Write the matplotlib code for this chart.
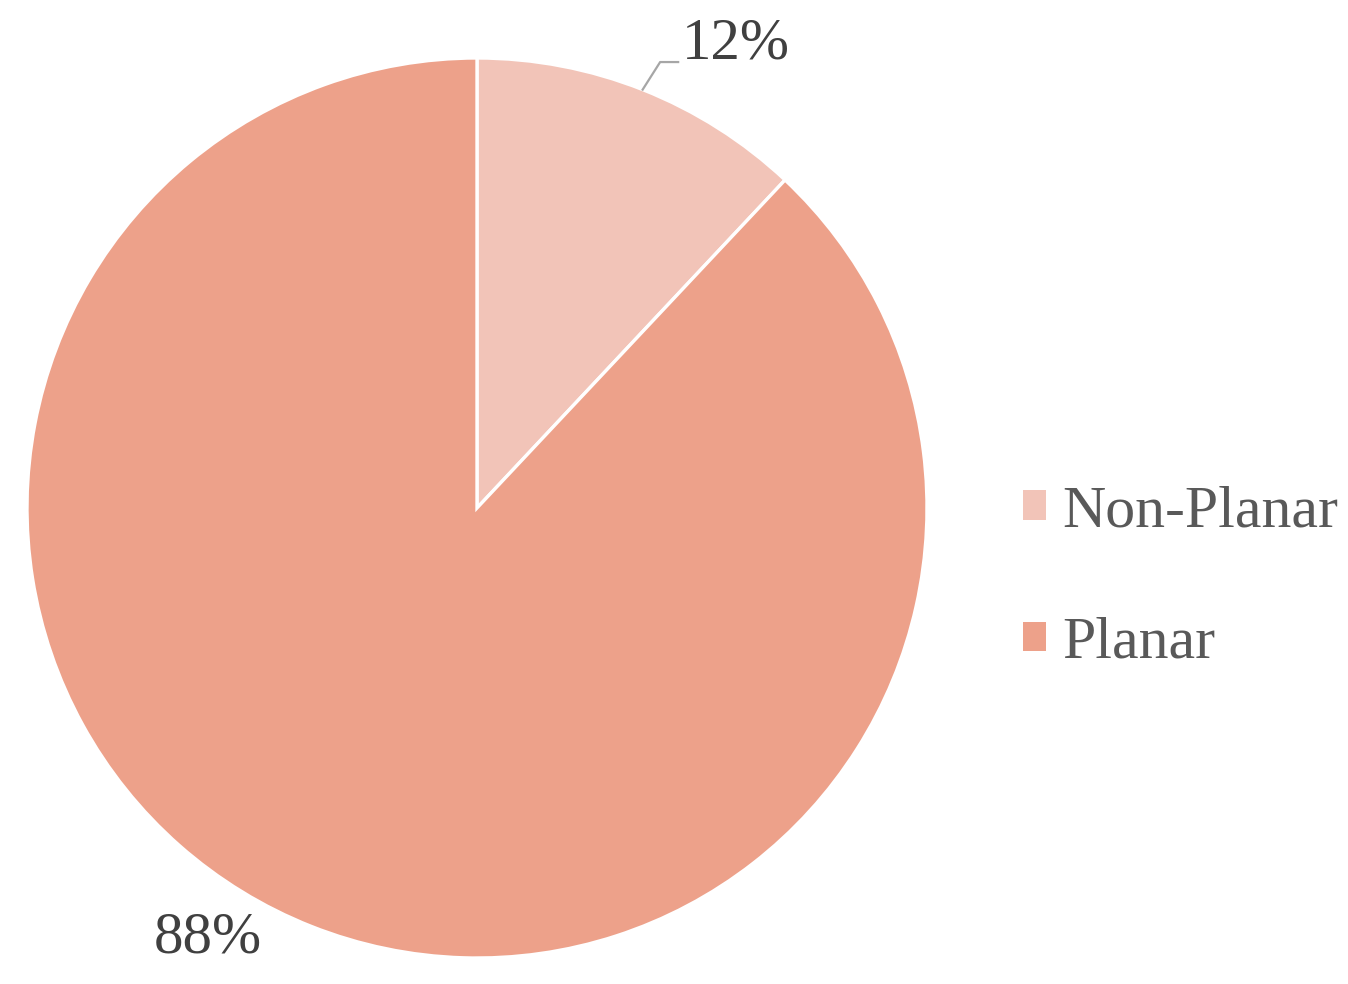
import numpy as np
import matplotlib

matplotlib.use("Agg")
import matplotlib.pyplot as plt
from matplotlib.patches import Patch

categories = ["Non-Planar", "Planar"]
shares = [12, 88]
colors = ["#F2C4B8", "#EDA18A"]

plt.rcParams["font.family"] = ["Liberation Serif", "DejaVu Serif"]

fig = plt.figure(figsize=(13.48, 9.84), dpi=100)
# pie centre ~ (477, 508) px, radius ~450 px
ax = fig.add_axes([27 / 1348, 26 / 984, 900 / 1348, 900 / 984])

wedges, _ = ax.pie(
    shares,
    colors=colors,
    startangle=90,
    counterclock=False,
    radius=1.0,
    wedgeprops=dict(edgecolor="white", linewidth=2.4),
)
ax.set_xlim(-1, 1)
ax.set_ylim(-1, 1)
ax.set_aspect("equal")
ax.axis("off")

# data labels
label_color = "#404040"
for w, val in zip(wedges, shares):
    mid = np.deg2rad((w.theta1 + w.theta2) / 2)
    ex, ey = np.cos(mid), np.sin(mid)
    if val < 50:
        # leader line: edge -> elbow -> text
        elbow = (0.407, 0.991)
        end = (0.447, 0.991)
        ax.plot([ex, elbow[0], end[0]], [ey, elbow[1], end[1]],
                color="#A6A6A6", linewidth=1.6, clip_on=False)
        ax.text(0.456, 1.029, f"{val}%", ha="left", va="center",
                fontsize=42.5, color=label_color, clip_on=False)
    else:
        ax.text(-0.598, -0.956, f"{val}%", ha="center", va="center",
                fontsize=42.5, color=label_color, clip_on=False)

handles = [Patch(facecolor=c, edgecolor="none") for c in colors]
leg = fig.legend(
    handles, categories,
    loc="center left",
    bbox_to_anchor=(1023 / 1348, 406 / 984),
    frameon=False,
    fontsize=43,
    handlelength=0.39,
    handleheight=0.39,
    handletextpad=0.26,
    labelspacing=1.3,
    borderpad=0,
    borderaxespad=0,
)
for t in leg.get_texts():
    t.set_color("#595959")

fig.savefig("out.png", dpi=100)
plt.close(fig)
